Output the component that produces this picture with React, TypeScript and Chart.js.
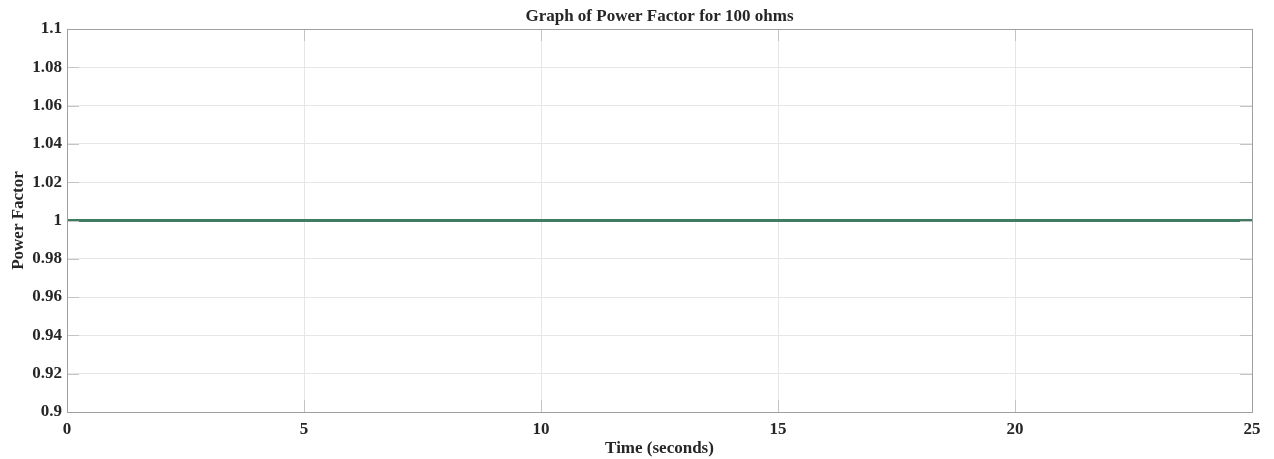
import React, { useEffect, useRef } from "react";
import { Chart, registerables } from "chart.js";

Chart.register(...registerables);

const timeSeconds = [0, 25];
const powerFactor = [1, 1];
const xTicks = [0, 5, 10, 15, 20, 25];
const yTicks = [0.9, 0.92, 0.94, 0.96, 0.98, 1, 1.02, 1.04, 1.06, 1.08, 1.1];
const chartTitle = "Graph of Power Factor for 100 ohms";
const xTitle = "Time (seconds)";
const yTitle = "Power Factor";

const FONT = "'Liberation Serif', 'Times New Roman', serif";

const innerTicks = {
  id: "innerTicks",
  afterDatasetsDraw(chart: any) {
    const { ctx, chartArea, scales } = chart;
    const { left, right, top, bottom } = chartArea;
    ctx.save();
    ctx.strokeStyle = "#c4c4c4";
    ctx.lineWidth = 1;
    const len = 12;
    for (const v of yTicks) {
      const y = Math.round(scales.y.getPixelForValue(v)) + 0.5;
      ctx.beginPath();
      ctx.moveTo(left, y);
      ctx.lineTo(left + len, y);
      ctx.moveTo(right, y);
      ctx.lineTo(right - len, y);
      ctx.stroke();
    }
    for (const v of xTicks) {
      const x = Math.round(scales.x.getPixelForValue(v)) + 0.5;
      ctx.beginPath();
      ctx.moveTo(x, bottom);
      ctx.lineTo(x, bottom - len);
      ctx.moveTo(x, top);
      ctx.lineTo(x, top + len);
      ctx.stroke();
    }
    ctx.strokeStyle = "#a0a0a0";
    ctx.strokeRect(Math.round(left) + 0.5, Math.round(top) + 0.5, Math.round(right - left), Math.round(bottom - top));
    ctx.restore();
  },
  afterDraw(chart: any) {
    const { ctx, chartArea } = chart;
    ctx.save();
    ctx.fillStyle = "#262626";
    ctx.font = `bold 17px ${FONT}`;
    ctx.textAlign = "center";
    ctx.textBaseline = "middle";
    ctx.fillText(chartTitle, (chartArea.left + chartArea.right) / 2, 17);
    ctx.restore();
  },
};

export default function App() {
  const ref = useRef<HTMLCanvasElement>(null);
  useEffect(() => {
    document.body.style.margin = "0";
    const canvas = ref.current!;
    const chart = new Chart(canvas, {
      type: "line",
      data: {
        datasets: [
          {
            data: timeSeconds.map((t, i) => ({ x: t, y: powerFactor[i] })),
            borderColor: "#3f7d62",
            borderWidth: 3,
            pointRadius: 0,
            fill: false,
          },
        ],
      },
      options: {
        animation: false,
        responsive: false,
        maintainAspectRatio: false,
        layout: { padding: { left: 0, right: 22, top: 29, bottom: 0 } },
        plugins: {
          legend: { display: false },
          tooltip: { enabled: false },
          title: { display: false },
        },
        scales: {
          x: {
            type: "linear",
            min: 0,
            max: 25,
            afterBuildTicks: (s: any) => {
              s.ticks = xTicks.map((v) => ({ value: v }));
            },
            afterFit: (s: any) => {
              s.height = 47;
            },
            ticks: {
              color: "#262626",
              font: { family: FONT, size: 17, weight: "bold" },
              padding: 7,
              maxRotation: 0,
              callback: (v: any) => String(v),
            },
            grid: { color: "#e6e6e6", drawTicks: false },
            border: { color: "#a0a0a0" },
            title: {
              display: true,
              text: xTitle,
              color: "#262626",
              font: { family: FONT, size: 17, weight: "bold" },
              padding: { top: 0, bottom: 0 },
            },
          },
          y: {
            type: "linear",
            min: 0.9,
            max: 1.1,
            afterBuildTicks: (s: any) => {
              s.ticks = yTicks.map((v) => ({ value: v }));
            },
            afterFit: (s: any) => {
              s.width = 67;
            },
            ticks: {
              color: "#262626",
              font: { family: FONT, size: 17, weight: "bold" },
              padding: 5,
              callback: (v: any) => String(parseFloat(Number(v).toFixed(2))),
            },
            grid: { color: "#e6e6e6", drawTicks: false },
            border: { color: "#a0a0a0" },
            title: {
              display: true,
              text: yTitle,
              color: "#262626",
              font: { family: FONT, size: 17, weight: "bold" },
              padding: { top: 8, bottom: 0 },
            },
          },
        },
      },
      plugins: [innerTicks],
    } as any);
    return () => chart.destroy();
  }, []);
  return (
    <div style={{ position: "absolute", left: 0, top: 0, width: 1274, height: 459, background: "#fff" }}>
      <canvas ref={ref} width={1274} height={459} style={{ width: 1274, height: 459 }} />
    </div>
  );
}
